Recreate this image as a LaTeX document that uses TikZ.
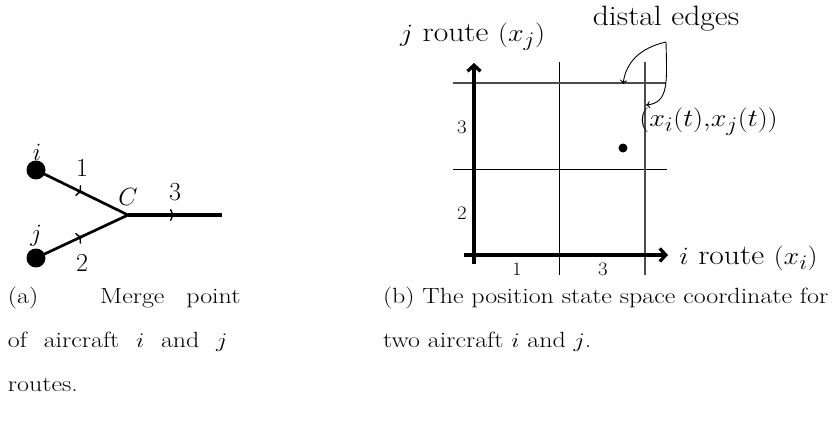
\documentclass[tikz,border=0pt]{standalone}
\usetikzlibrary{decorations.markings,arrows.meta}
\begin{document}
\begin{tikzpicture}[x=1pt,y=-1pt,
  every node/.style={inner sep=0pt,outer sep=0pt},
  dotnode/.style={circle,fill=black,inner sep=0pt,minimum size=19pt},
  ptnode/.style={circle,fill=black,inner sep=0pt,minimum size=9pt},
  midarrow/.style={postaction={decorate},decoration={markings,mark=at position 0.5 with {\arrow{To[length=5pt,width=12pt,line width=1.4pt]}}}},
  route/.style={line width=2.7pt,midarrow},
  outroute/.style={line width=3.4pt,midarrow},
  lbl/.style={font=\fontsize{26}{30}\selectfont},
  axisline/.style={line width=3.3pt,-{Straight Barb[length=6pt,width=13pt]}},
  gridline/.style={line width=0.9pt},
  distal/.style={line width=1.4pt,black!70},
  callout/.style={line width=0.9pt,-{To[length=4pt,width=7pt]}},
  bigtxt/.style={font=\fontsize{28}{32}\selectfont,xscale=1.13},
  ticktxt/.style={font=\fontsize{19}{23}\selectfont,xscale=1.1},
  captxt/.style={font=\fontsize{22}{26}\selectfont,xscale=1.18,anchor=base west}
]
\useasboundingbox (0,0) rectangle (836,423);

% ---------- (a) merge point ----------
\node[dotnode] (ni) at (36,170) {};
\node[dotnode] (nj) at (36,258) {};
\coordinate (C) at (128,215);
\coordinate (E) at (222,215);
\draw[route] (ni.center) -- (C);
\draw[route] (nj.center) -- (C);
\draw[outroute] (C) -- (E);
\node[lbl] (li) at (37,152) {$i$};
\node[lbl] (lj) at (36,236) {$j$};
\node[lbl] (l1) at (82,167.5) {1};
\node[lbl] (l2) at (82,263) {2};
\node[lbl] (lC) at (128,197) {$C$};
\node[lbl] (l3) at (175,192) {3};

% ---------- (b) state space ----------
\coordinate (v1t) at (559,62);  \coordinate (v1b) at (559,275);
\coordinate (v2t) at (645,62);  \coordinate (v2b) at (645,275);
\coordinate (h1l) at (453,83);  \coordinate (h1r) at (666,83);
\coordinate (h2l) at (453,169); \coordinate (h2r) at (667,169);
\draw[gridline] (v1t) -- (v1b);
\draw[gridline] (h2l) -- (h2r);
\draw[distal] (v2t) -- (v2b);
\draw[distal] (h1l) -- (h1r);

\coordinate (ay0) at (474,264); \coordinate (ay1) at (474,63);
\coordinate (ax0) at (464,255); \coordinate (ax1) at (668,255);
\draw[axisline] (ay0) -- (ay1);
\draw[axisline] (ax0) -- (ax1);

\node[ptnode] (P) at (623,148) {};

\node[ticktxt] (t3) at (462,127.5) {3};
\node[ticktxt] (t2) at (462,213.5) {2};
\node[ticktxt] (b1) at (517,269) {1};
\node[ticktxt] (b3) at (603,269) {3};

\node[bigtxt] (jr) at (472.5,36.5) {$j$ route $(x_j)$};
\node[bigtxt] (ir) at (748.5,258) {$i$ route $(x_i)$};
\node[bigtxt] (xy) at (708.5,121.5) {$(x_i(t){,}x_j(t))$};
\node[bigtxt] (de) at (666,19) {distal edges};

\coordinate (dc) at (666,42);
\coordinate (d1) at (623,84);
\coordinate (d2) at (646,105);
\draw[callout] (dc) .. controls (640,48) and (626,62) .. (d1);
\draw[callout] (dc) .. controls (667,82) and (669,103) .. (d2);

% ---------- captions ----------
\node[captxt] (ca1) at (8,303) {\hbox to 197pt{(a)\hspace{34pt}\hfill Merge\hfill point}};
\node[captxt] (ca2) at (8,347) {\hbox to 186pt{of\hfill aircraft\hfill $i$\hfill and\hfill $j$}};
\node[captxt] (ca3) at (8,391) {routes.};
\node[captxt] (cb1) at (383,303) {(b) The position state space coordinate for};
\node[captxt] (cb2) at (383,347) {two aircraft $i$ and $j$.};
\end{tikzpicture}
\end{document}
